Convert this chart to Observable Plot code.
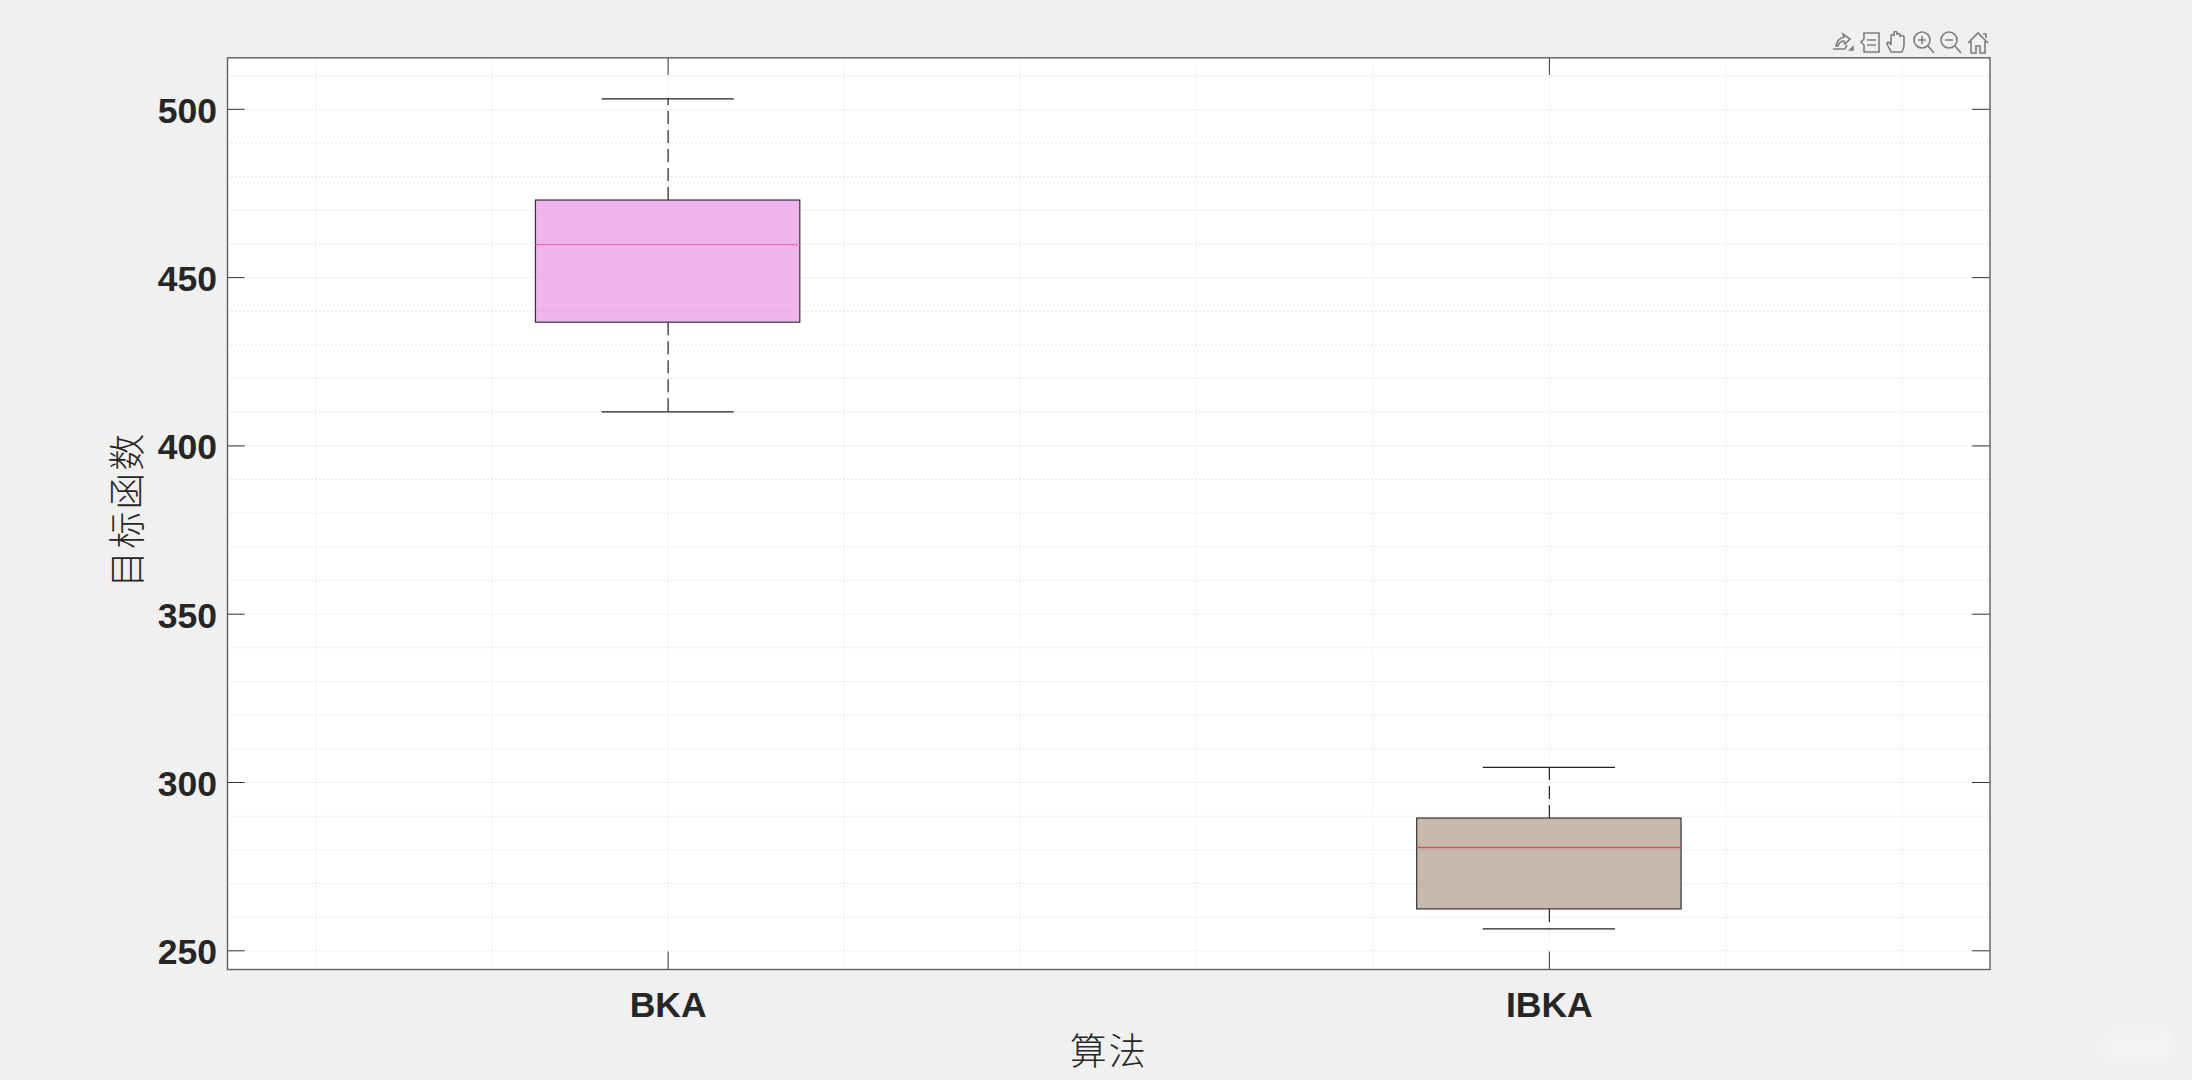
<!DOCTYPE html>
<html>
<head>
<meta charset="utf-8">
<script src="https://cdn.jsdelivr.net/npm/d3@7"></script>
<script src="https://cdn.jsdelivr.net/npm/@observablehq/plot@0.6"></script>
<style>
html,body{margin:0;padding:0;background:#f0f0f0;width:2192px;height:1080px;overflow:hidden}
#wrap{position:relative;width:2192px;height:1080px}
#wrap svg.plot{position:absolute;left:0;top:0;background:transparent}
#tools{position:absolute;left:1832px;top:31px;display:flex;gap:5px}
#tools svg{width:22px;height:23px;fill:none;stroke:#7d7d7d;stroke-width:1.6}
#smudge{position:absolute;left:2102px;top:1030px;width:70px;height:32px;background:#f3f3f3;border-radius:8px;filter:blur(3px)}
</style>
</head>
<body>
<div id="wrap"><div id="smudge"></div></div>
<script>
const algorithms = ["BKA", "IBKA"];
const positions = [1, 2];
const whiskerLow = [410.1, 256.5];
const q1 = [436.6, 262.3];
const medians = [459.8, 280.7];
const q3 = [472.9, 289.3];
const whiskerHigh = [503.1, 304.5];
const boxFills = ["#DF67DD", "#91735D"];
const medianColors = ["#ea6fb8", "#d9534f"];
const yTicks = [250, 300, 350, 400, 450, 500];
const yGrid = [250, 260, 270, 280, 290, 300, 310, 320, 330, 340, 350, 360, 370, 380, 390, 400, 410, 420, 430, 440, 450, 460, 470, 480, 490, 500, 510];
const xGrid = [0.6, 0.8, 1, 1.2, 1.4, 1.6, 1.8, 2, 2.2, 2.4];
const xLabel = "算法";
const yLabel = "目标函数";

const xDomain = [0.5, 2.5];
const yDomain = [244.45, 515.3];
const boxHalf = 0.15, capHalf = 0.075, xTick = 0.02, yTick = 5.2;
const table = algorithms.map((name, i) => ({
  name, pos: positions[i], low: whiskerLow[i], q1: q1[i], med: medians[i],
  q3: q3[i], high: whiskerHigh[i], fill: boxFills[i], medColor: medianColors[i]
}));
const hGrid = {stroke: "#dedede", strokeWidth: 1, strokeDasharray: "1.5,2.5"};
const vGrid = {stroke: "#e8e8e8", strokeWidth: 1, strokeDasharray: "1.5,2.5"};
const ink = "#333";
const font = "'Liberation Sans', Arial, sans-serif";
const cjk = "'Noto Sans CJK SC', sans-serif";

const chart = Plot.plot({
  width: 2192, height: 1080,
  marginLeft: 227, marginRight: 202.5, marginTop: 57.3, marginBottom: 111,
  style: {background: "transparent"},
  x: {domain: xDomain, axis: null},
  y: {domain: yDomain, axis: null},
  marks: [
    Plot.frame({fill: "white", stroke: null}),
    Plot.ruleX(xGrid, vGrid),
    Plot.ruleY(yGrid, hGrid),
    // inward ticks on all four sides
    Plot.ruleY(yTicks, {x1: xDomain[0], x2: xDomain[0] + xTick, stroke: ink}),
    Plot.ruleY(yTicks, {x1: xDomain[1], x2: xDomain[1] - xTick, stroke: ink}),
    Plot.ruleX(positions, {y1: yDomain[0], y2: yDomain[0] + yTick, stroke: ink}),
    Plot.ruleX(positions, {y1: yDomain[1], y2: yDomain[1] - yTick, stroke: ink}),
    // whiskers
    Plot.ruleX(table, {x: "pos", y1: "q3", y2: "high", stroke: "#222", strokeWidth: 1.2, strokeDasharray: "13,6"}),
    Plot.ruleX(table, {x: "pos", y1: "q1", y2: "low", stroke: "#222", strokeWidth: 1.2, strokeDasharray: "13,6"}),
    Plot.ruleY(table, {y: "high", x1: d => d.pos - capHalf, x2: d => d.pos + capHalf, stroke: "#222", strokeWidth: 1.2}),
    Plot.ruleY(table, {y: "low", x1: d => d.pos - capHalf, x2: d => d.pos + capHalf, stroke: "#222", strokeWidth: 1.2}),
    // boxes
    Plot.rect(table, {x1: d => d.pos - boxHalf, x2: d => d.pos + boxHalf, y1: "q1", y2: "q3", fill: "fill", fillOpacity: 0.5, stroke: "#333", strokeWidth: 1.2}),
    Plot.ruleY(table, {y: "med", x1: d => d.pos - boxHalf, x2: d => d.pos + boxHalf, stroke: "medColor", strokeWidth: 1.3}),
    Plot.frame({stroke: "#5f5f5f", strokeWidth: 1.4}),
    // tick labels
    Plot.axisY(yTicks, {anchor: "left", tickSize: 0, tickPadding: 10.5, dy: 2, label: null, fontSize: 35.5, fontWeight: "bold", fontFamily: font, fill: "#262626"}),
    Plot.axisX(positions, {anchor: "bottom", tickSize: 0, tickPadding: 22, label: null, tickFormat: d => algorithms[d - 1], fontSize: 35.5, fontWeight: "bold", fontFamily: font, fill: "#262626"}),
    // axis titles
    Plot.text([xLabel], {text: d => d, frameAnchor: "bottom", dy: 84, fontSize: 37, fontFamily: cjk, fontWeight: 300, fill: "#262626", lineAnchor: "middle", textAnchor: "middle"}),
    Plot.text([yLabel], {text: d => d, frameAnchor: "left", dx: -98, dy: -4, rotate: -90, fontSize: 37, fontFamily: cjk, fontWeight: 300, fill: "#262626", textAnchor: "middle"})
  ]
});
document.getElementById("wrap").appendChild(chart);
d3.select(chart).selectAll("text")
  .filter(function () { return [xLabel, yLabel].includes(this.textContent); })
  .style("letter-spacing", "2px");

const tools = document.createElement("div");
tools.id = "tools";
tools.innerHTML = `
<svg viewBox="0 0 22 23"><path d="M1 18h12l2-4M4 15c1-5 4-8 8-9l-1-3 7 5-5 5-1-3c-3 0-5 2-6 5z"/><path d="M18 19l3 0 0-3z" fill="#7d7d7d"/></svg>
<svg viewBox="0 0 22 23"><path d="M5 2h15v19H5v-7l-3-3 3-3z"/><path d="M8 9h9M8 14h9"/></svg>
<svg viewBox="0 0 22 23"><path d="M5 21c-1-3-4-6-4-9 1-2 3 0 4 2V5c0-2 3-2 3 0V2c0-2 3-2 3 0v2c0-2 3-2 3 0v2c0-2 4-2 4 0v8c0 3-1 5-2 7z"/></svg>
<svg viewBox="0 0 22 23"><circle cx="9" cy="9" r="8"/><path d="M15 15l6 7M9 5v8M5 9h8"/></svg>
<svg viewBox="0 0 22 23"><circle cx="9" cy="9" r="8"/><path d="M15 15l6 7M5 9h8"/></svg>
<svg viewBox="0 0 22 23"><path d="M1 12L11 2l10 10M4 10v12h5v-7h4v7h5V10M16 3h3v4"/></svg>`;
document.getElementById("wrap").appendChild(tools);
</script>
</body>
</html>
